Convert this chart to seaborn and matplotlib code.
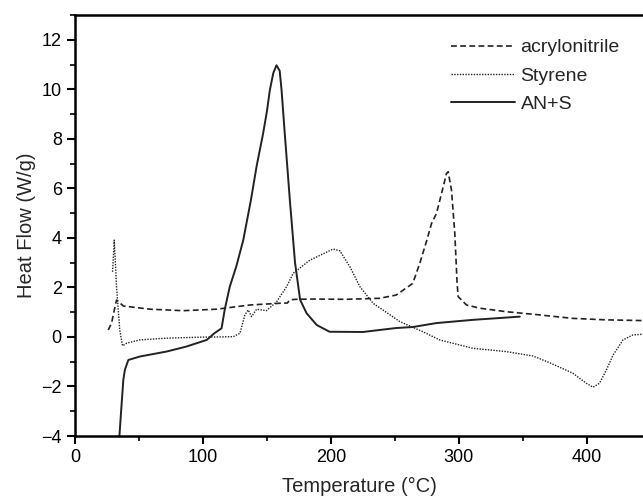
import matplotlib
matplotlib.use("Agg")
import matplotlib.pyplot as plt
from matplotlib.ticker import MultipleLocator
import seaborn as sns

# acrylonitrile (dashed)
an_t = [26, 28.6, 31.3, 32.5, 37.8, 58.6, 84.6, 110.7, 136.7, 160, 166, 168, 173, 186, 212, 238,
        251, 264, 269.5, 275, 278.7, 282.6, 286.5, 290.4, 291.7, 294.3, 296.9, 298.7, 299.5,
        306, 316.4, 337, 363, 389, 415, 444]
an_hf = [0.28, 0.56, 1.22, 1.49, 1.25, 1.12, 1.06, 1.12, 1.29, 1.36, 1.37, 1.5, 1.52, 1.53, 1.52, 1.56,
         1.69, 2.16, 2.97, 3.9, 4.58, 4.99, 5.79, 6.6, 6.67, 5.93, 4.18, 2.16, 1.63,
         1.29, 1.16, 1.02, 0.89, 0.75, 0.69, 0.66]

# styrene (dotted)
st_t = [29.4, 30.7, 32.5, 35, 37.2, 40.4, 50.8, 71.6, 97.6, 123.7, 129, 132.8, 135.4, 138, 142,
        149.7, 157.6, 165.4, 170.6, 183.6, 201.8, 207, 214.8, 222.7, 233, 253.9, 272, 285,
        311, 337, 358, 371, 389, 399.7, 405, 410, 415.4, 420.6, 428.4, 436, 444]
st_hf = [2.63, 3.91, 2.03, 0.28, -0.36, -0.25, -0.12, -0.05, -0.01, 0.01, 0.15, 0.89, 1.09, 0.82, 1.12,
         1.06, 1.42, 2.03, 2.57, 3.1, 3.55, 3.48, 2.84, 2.03, 1.36, 0.62, 0.21, -0.12,
         -0.46, -0.59, -0.77, -1.04, -1.46, -1.87, -2.03, -1.87, -1.33, -0.73, -0.12, 0.08, 0.11]

# AN+S (solid)
ans_t = [34.6, 36.2, 37.8, 39, 41.7, 50.8, 71.6, 87, 103, 109, 114.6, 117, 121, 126, 131.5, 137.5,
         142, 147, 150, 152.3, 155, 157.5, 160, 161.5, 164, 168, 172, 176, 181, 189, 199, 225, 251,
         264, 282.5, 311, 347.7]
ans_hf = [-4.1, -2.9, -1.73, -1.33, -0.93, -0.79, -0.59, -0.39, -0.12, 0.15, 0.35, 1.09, 2.03, 2.83, 3.9, 5.52,
          6.9, 8.2, 9.1, 9.96, 10.65, 10.97, 10.75, 9.96, 8.2, 5.5, 3.0, 1.5, 0.96, 0.48, 0.21, 0.2, 0.36,
          0.4, 0.56, 0.69, 0.82]

sns.set_style("ticks")
plt.rcParams["font.family"] = ["Liberation Sans", "DejaVu Sans"]

fig = plt.figure(figsize=(6.43, 5.03), dpi=100)
ax = fig.add_axes([0.1166, 0.1332, 0.8834, 0.837])

col = "#222222"
sns.lineplot(x=an_t, y=an_hf, ax=ax, color=col, lw=1.2, sort=False, estimator=None,
             label="acrylonitrile", linestyle=(0, (3.5, 2)))
sns.lineplot(x=st_t, y=st_hf, ax=ax, color=col, lw=1.0, sort=False, estimator=None,
             label="Styrene", linestyle=(0, (1, 1)))
sns.lineplot(x=ans_t, y=ans_hf, ax=ax, color=col, lw=1.4, sort=False, estimator=None,
             label="AN+S", linestyle="-")

ax.set_xlim(0, 444)
ax.set_ylim(-4, 13)
ax.xaxis.set_major_locator(MultipleLocator(100))
ax.xaxis.set_minor_locator(MultipleLocator(50))
ax.yaxis.set_major_locator(MultipleLocator(2))
ax.yaxis.set_minor_locator(MultipleLocator(1))
ax.tick_params(which="major", direction="out", length=6, width=1.5, labelsize=13, colors="black")
ax.tick_params(which="minor", direction="out", length=3.5, width=1.2, colors="black")
for side in ["left", "bottom", "top"]:
    ax.spines[side].set_linewidth(1.8)
    ax.spines[side].set_color("black")
ax.spines["right"].set_visible(False)

ax.set_xlabel("Temperature (°C)", fontsize=14.5, labelpad=8)
ax.set_ylabel("Heat Flow (W/g)", fontsize=14.5, labelpad=4)

ax.legend(loc="upper right", bbox_to_anchor=(0.99, 0.985), frameon=False, fontsize=14,
          handlelength=3.3, labelspacing=0.55, handletextpad=0.3)

fig.savefig("out.png", dpi=100)
